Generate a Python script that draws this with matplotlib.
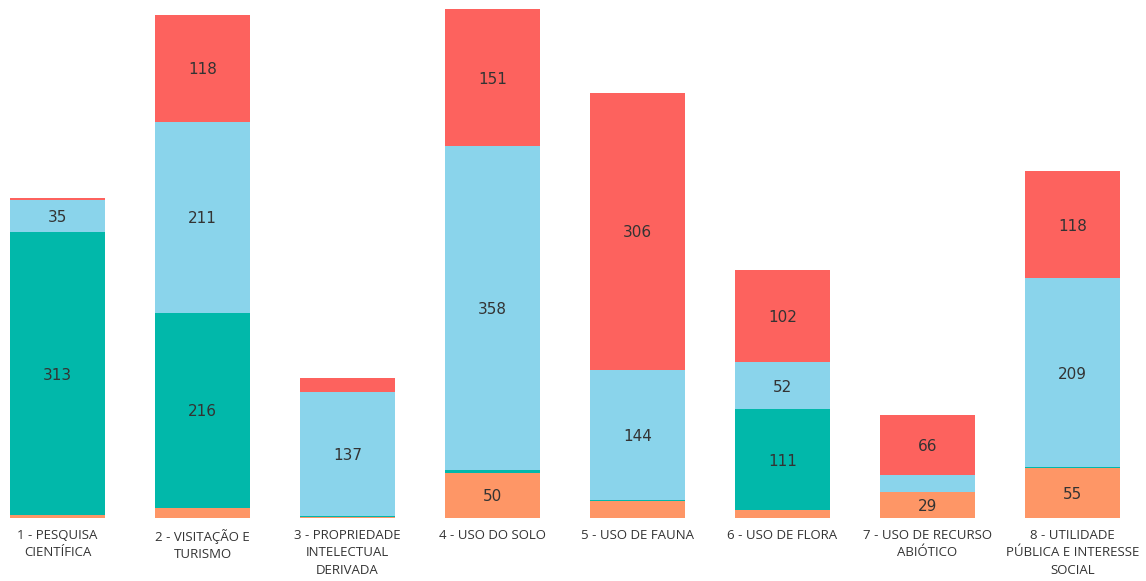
import matplotlib.pyplot as plt
import numpy as np

categories = [
    "1 - PESQUISA\nCIENTÍFICA",
    "2 - VISITAÇÃO E\nTURISMO",
    "3 - PROPRIEDADE\nINTELECTUAL\nDERIVADA",
    "4 - USO DO SOLO",
    "5 - USO DE FAUNA",
    "6 - USO DE FLORA",
    "7 - USO DE RECURSO\nABIÓTICO",
    "8 - UTILIDADE\nPÚBLICA E INTERESSE\nSOCIAL",
]

# stacked series, bottom to top
serie_laranja = [3, 11, 1, 50, 19, 9, 29, 55]
serie_verde = [313, 216, 1, 3, 1, 111, 0, 1]
serie_azul = [35, 211, 137, 358, 144, 52, 19, 209]
serie_vermelha = [3, 118, 16, 151, 306, 102, 66, 118]

series = [serie_laranja, serie_verde, serie_azul, serie_vermelha]
colors = ["#FE9666", "#01B8AA", "#8AD4EB", "#FD625E"]
LABEL_MIN = 25

fig = plt.figure(figsize=(11.46, 5.81), dpi=100)
ax = fig.add_axes([0, (581 - 518) / 581, 1, 518 / 581])

x = np.arange(len(categories))
bottom = np.zeros(len(categories))
for vals, col in zip(series, colors):
    vals = np.array(vals, dtype=float)
    ax.bar(x, vals, bottom=bottom, width=0.655, color=col, linewidth=0)
    for xi, b, v in zip(x, bottom, vals):
        if v >= LABEL_MIN:
            ax.text(xi, b + v / 2, f"{int(v)}", ha="center", va="center_baseline",
                    fontsize=11, color="#333333", family="DejaVu Sans")
    bottom += vals

ax.set_xlim(-57.5 / 145, (1146 - 57.5) / 145)
ax.set_ylim(0, 518 / 0.905)
ax.axis("off")

for xi, lab in zip(x, categories):
    ax.text(xi, -12, lab, ha="center", va="top", fontsize=9.5,
            color="#333333", family="Open Sans", linespacing=1.45)

fig.savefig("out.png", dpi=100)
